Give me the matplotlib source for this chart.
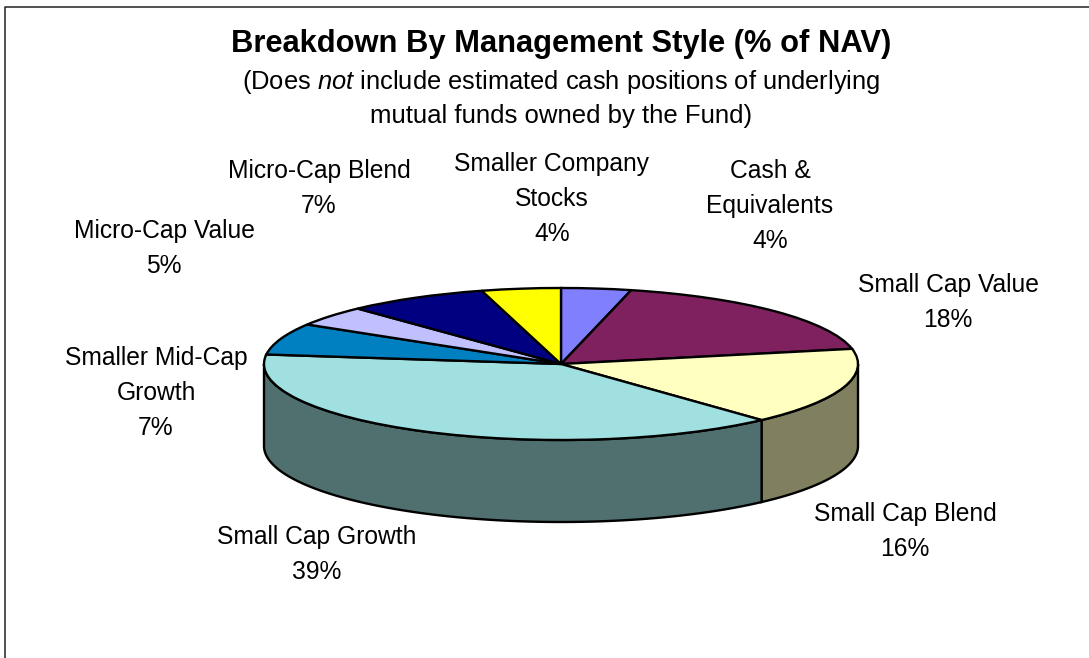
import numpy as np
import matplotlib
matplotlib.use('Agg')
import matplotlib.pyplot as plt

W = 1089
H = 658

plt.rcParams['font.family'] = ['Liberation Sans', 'DejaVu Sans']
plt.rcParams['mathtext.fontset'] = 'custom'
plt.rcParams['mathtext.rm'] = 'Liberation Sans'
plt.rcParams['mathtext.it'] = 'Liberation Sans:italic'

# clockwise from 12 o'clock, drawn values are a bit finer than the rounded labels
names = ['Cash &\nEquivalents', 'Small Cap Value', 'Small Cap Blend', 'Small Cap Growth',
         'Smaller Mid-Cap\nGrowth', 'Micro-Cap Value', 'Micro-Cap Blend', 'Smaller Company\nStocks']
values = [3.8, 18.0, 16.4, 38.8, 6.7, 4.3, 7.7, 4.3]
pct_labels = ['4%', '18%', '16%', '39%', '7%', '5%', '7%', '4%']
top_colors = ['#8080FF', '#7F205F', '#FFFFC0', '#A0E0E0', '#0080C0', '#C0C0FF', '#000080', '#FFFF00']
side_colors = ['#404080', '#401030', '#808060', '#507070', '#004060', '#606080', '#000040', '#808000']
label_x = [770, 948, 905, 317, 156, 164, 319, 552]
label_y = [159, 273, 502, 525, 346, 219, 159, 152]

# pixel geometry of the disc
cx = 561
cy = 364
rx = 297
ry = 76
depth = 82
lw = 1.7

fig = plt.figure(figsize=(W / 100, H / 100), dpi=100)
ax = fig.add_axes([0, 0, 1, 1])

wedges, _ = ax.pie(values, colors=top_colors, startangle=90, counterclock=False,
                   wedgeprops={'edgecolor': 'black', 'linewidth': lw, 'zorder': 3})
ax.set_aspect('auto')
ax.set_xlim(-cx / rx, (W - cx) / rx)
ax.set_ylim((cy - H) / ry, cy / ry)
ax.axis('off')

# side wall, only the front half of the disc can be seen
total = sum(values)
d = depth / ry
start = 0.0
for v, c in zip(values, side_colors):
    a0 = max(start / total * 2 * np.pi, np.pi / 2)
    a1 = min((start + v) / total * 2 * np.pi, 3 * np.pi / 2)
    start += v
    if a1 <= a0:
        continue
    t = np.linspace(a0, a1, 120)
    xs = np.sin(t)
    ys = np.cos(t)
    ax.fill(np.r_[xs, xs[::-1]], np.r_[ys, ys[::-1] - d], facecolor=c,
            edgecolor='black', linewidth=lw, zorder=2)

# chart frame, only left and top show in the picture
frame_x = np.array([4.5, 4.5, W])
frame_y = np.array([H, 7, 7])
fig.add_artist(plt.Line2D(frame_x / W, 1 - frame_y / H, color='#222222', linewidth=1.1))

fs = 17.7
fig.text(561 / W, 1 - 44 / H, 'Breakdown By Management Style (% of NAV)', ha='center', va='center',
         fontsize=22.2, fontweight='bold', color='black')
fig.text(561 / W, 1 - 82 / H, r'(Does $\mathit{not}$ include estimated cash positions of underlying',
         ha='center', va='center', fontsize=18.4, color='black')
fig.text(561 / W, 1 - 116 / H, 'mutual funds owned by the Fund)', ha='center', va='center',
         fontsize=18.5, color='black')

for n, p, x, y in zip(names, pct_labels, label_x, label_y):
    fig.text(x / W, 1 - y / H, n + '\n' + p, ha='center', va='top', fontsize=fs,
             color='black', linespacing=1.59, multialignment='center')

fig.savefig('out.png', dpi=100, facecolor='white')
